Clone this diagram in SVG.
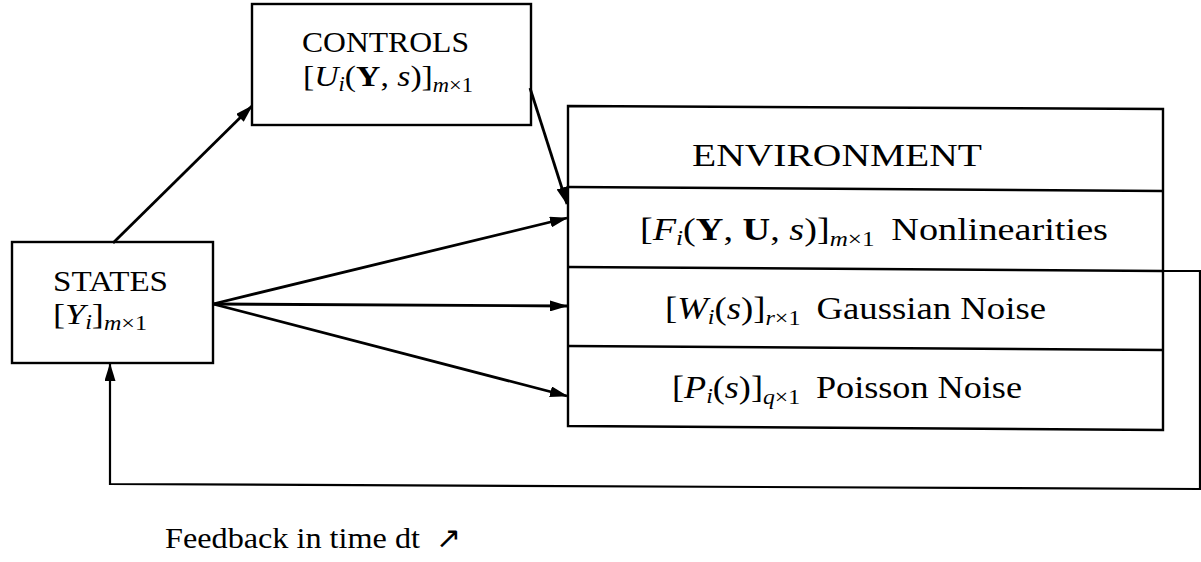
<svg xmlns="http://www.w3.org/2000/svg" width="1201" height="562" viewBox="0 0 1201 562">
<defs>
<marker id="ah" markerUnits="userSpaceOnUse" markerWidth="18" markerHeight="11" refX="17" refY="5.5" orient="auto">
<path d="M0,0 L18,5.5 L0,11 z" fill="#000"/>
</marker>
<style>
text{font-family:"Liberation Serif","Times New Roman",serif;font-size:30px;fill:#000}
.env{font-size:32px}
.sub{font-size:20px}
.env .sub{font-size:21px}
.it{font-style:italic}
.bf{font-weight:bold}
.box{fill:none;stroke:#000;stroke-width:2.4}
.conn{fill:none;stroke:#000;stroke-width:2.8}
.fb{fill:none;stroke:#000;stroke-width:2.2}
</style>
</defs>
<rect width="1201" height="562" fill="#fff"/>

<g id="controls">
<rect class="box" x="252" y="4" width="279" height="121"/>
<text x="302" y="52" textLength="167" lengthAdjust="spacingAndGlyphs">CONTROLS</text>
<text x="303" y="86" textLength="170" lengthAdjust="spacingAndGlyphs">[<tspan class="it">U</tspan><tspan class="sub it" dy="5">i</tspan><tspan dy="-5">(</tspan><tspan class="bf">Y</tspan>, <tspan class="it">s</tspan>)]<tspan class="sub it" dy="6">m</tspan><tspan class="sub">×1</tspan></text>
</g>

<g id="states">
<rect class="box" x="12" y="242" width="201" height="121"/>
<text x="53" y="291" textLength="115" lengthAdjust="spacingAndGlyphs">STATES</text>
<text x="53" y="324" textLength="94" lengthAdjust="spacingAndGlyphs">[<tspan class="it">Y</tspan><tspan class="sub it" dy="5">i</tspan><tspan dy="-5">]</tspan><tspan class="sub it" dy="6">m</tspan><tspan class="sub">×1</tspan></text>
</g>

<g id="environment">
<path class="box" d="M568,106 L1163,109 L1163,430 L568,426 Z"/>
<text class="env" x="692" y="166" textLength="290" lengthAdjust="spacingAndGlyphs">ENVIRONMENT</text>
</g>

<g id="nonlinearities">
<path class="box" d="M568,187 L1163,191"/>
<text class="env" x="640" y="240" textLength="468" lengthAdjust="spacingAndGlyphs">[<tspan class="it">F</tspan><tspan class="sub it" dy="5">i</tspan><tspan dy="-5">(</tspan><tspan class="bf">Y</tspan>, <tspan class="bf">U</tspan>, <tspan class="it">s</tspan>)]<tspan class="sub it" dy="6">m</tspan><tspan class="sub">×1</tspan><tspan dy="-6" dx="14">Nonlinearities</tspan></text>
</g>

<g id="gaussian">
<path class="box" d="M568,267 L1163,271"/>
<text class="env" x="665" y="319" textLength="381" lengthAdjust="spacingAndGlyphs">[<tspan class="it">W</tspan><tspan class="sub it" dy="5">i</tspan><tspan dy="-5">(</tspan><tspan class="it">s</tspan>)]<tspan class="sub it" dy="6">r</tspan><tspan class="sub">×1</tspan><tspan dy="-6" dx="14">Gaussian Noise</tspan></text>
</g>

<g id="poisson">
<path class="box" d="M568,346 L1163,350"/>
<text class="env" x="672" y="398" textLength="350" lengthAdjust="spacingAndGlyphs">[<tspan class="it">P</tspan><tspan class="sub it" dy="5">i</tspan><tspan dy="-5">(</tspan><tspan class="it">s</tspan>)]<tspan class="sub it" dy="6">q</tspan><tspan class="sub">×1</tspan><tspan dy="-6" dx="14">Poisson Noise</tspan></text>
</g>

<g id="connectors">
<line class="conn" x1="113" y1="243" x2="252" y2="106" marker-end="url(#ah)"/>
<line class="conn" x1="530" y1="88" x2="567" y2="204" marker-end="url(#ah)"/>
<line class="conn" x1="213" y1="304" x2="567" y2="218" marker-end="url(#ah)"/>
<line class="conn" x1="213" y1="304" x2="567" y2="306" marker-end="url(#ah)"/>
<line class="conn" x1="213" y1="304" x2="567" y2="396" marker-end="url(#ah)"/>
<polyline class="fb" points="1163,271 1200,271 1200,489 110,484 110,364" marker-end="url(#ah)"/>
</g>

<g id="caption">
<text x="165" y="548" textLength="255" lengthAdjust="spacingAndGlyphs">Feedback in time dt</text>
<text x="436" y="548" font-family="DejaVu Sans" font-size="26" style="font-family:'DejaVu Sans',sans-serif">↗</text>
</g>
</svg>
